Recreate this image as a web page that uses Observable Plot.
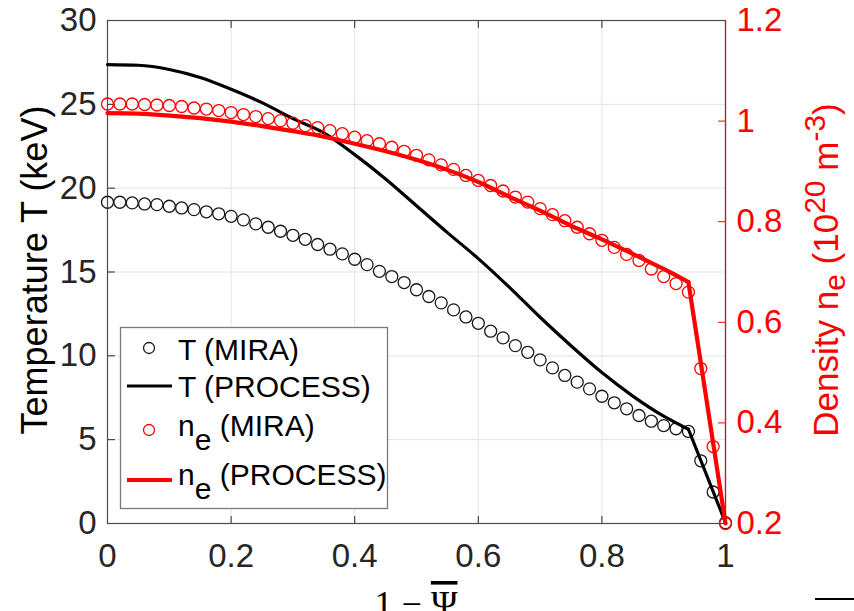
<!DOCTYPE html>
<html>
<head>
<meta charset="utf-8">
<script src="https://cdn.jsdelivr.net/npm/d3@7"></script>
<script src="https://cdn.jsdelivr.net/npm/@observablehq/plot@0.6"></script>
<style>
html, body { margin: 0; padding: 0; background: #fff; overflow: hidden; }
#wrap { position: relative; width: 854px; height: 611px; overflow: hidden; }
#wrap svg { display: block; }
#legend { position: absolute; left: 120px; top: 327px; }
#dash { position: absolute; left: 815px; top: 598px; width: 39px; height: 2px; background: #000; }
</style>
</head>
<body>
<div id="wrap"><div id="dash"></div></div>
<script>
// ---- data ----
const psiMira = [0, 0.02, 0.04, 0.06, 0.08, 0.10, 0.12, 0.14, 0.16, 0.18,
  0.20, 0.22, 0.24, 0.26, 0.28, 0.30, 0.32, 0.34, 0.36, 0.38,
  0.40, 0.42, 0.44, 0.46, 0.48, 0.50, 0.52, 0.54, 0.56, 0.58,
  0.60, 0.62, 0.64, 0.66, 0.68, 0.70, 0.72, 0.74, 0.76, 0.78,
  0.80, 0.82, 0.84, 0.86, 0.88, 0.90, 0.92, 0.94, 0.96, 0.98, 1.00];
const tMira = [19.16, 19.16, 19.12, 19.06, 19.02, 18.92, 18.82, 18.72, 18.59, 18.47,
  18.32, 18.11, 17.87, 17.67, 17.43, 17.19, 16.95, 16.64, 16.36, 16.08,
  15.76, 15.44, 15.04, 14.73, 14.37, 13.94, 13.54, 13.16, 12.74, 12.32,
  11.94, 11.47, 11.07, 10.61, 10.21, 9.76, 9.28, 8.83, 8.43, 8.03,
  7.59, 7.20, 6.84, 6.44, 6.10, 5.84, 5.65, 5.49, 3.74, 1.88, 0.05];
const neMira = [1.034, 1.034, 1.034, 1.033, 1.032, 1.031, 1.029, 1.026, 1.024, 1.021,
  1.017, 1.013, 1.009, 1.005, 1.001, 0.996, 0.991, 0.987, 0.981, 0.975,
  0.968, 0.961, 0.955, 0.948, 0.940, 0.932, 0.923, 0.913, 0.904, 0.892,
  0.882, 0.872, 0.861, 0.849, 0.839, 0.826, 0.814, 0.802, 0.789, 0.776,
  0.763, 0.749, 0.735, 0.723, 0.706, 0.691, 0.677, 0.660, 0.508, 0.353, 0.200];

const psiProcess = [0, 0.05, 0.10, 0.15, 0.20, 0.25, 0.30, 0.35, 0.40, 0.45,
  0.50, 0.55, 0.60, 0.65, 0.70, 0.75, 0.80, 0.85, 0.90, 0.94, 1.00];
const tProcess = [27.37, 27.33, 27.08, 26.60, 25.90, 25.10, 24.15, 23.30, 22.00, 20.55,
  18.95, 17.35, 15.80, 14.10, 12.30, 10.60, 9.00, 7.60, 6.40, 5.62, 0.05];
const neProcess = [1.016, 1.015, 1.011, 1.006, 0.999, 0.990, 0.980, 0.969, 0.955, 0.940,
  0.923, 0.903, 0.879, 0.850, 0.822, 0.792, 0.765, 0.736, 0.706, 0.680, 0.200];
const pedestalPsi = 0.94;

const xTicks = [0, 0.2, 0.4, 0.6, 0.8, 1];
const xTickLabels = ["0", "0.2", "0.4", "0.6", "0.8", "1"];
const tTicks = [0, 5, 10, 15, 20, 25, 30];
const neTicks = [0.2, 0.4, 0.6, 0.8, 1.0, 1.2];
const neTickLabels = ["0.2", "0.4", "0.6", "0.8", "1", "1.2"];

const legendLabels = [["T (MIRA)"], ["T (PROCESS)"], ["n", "e", " (MIRA)"], ["n", "e", " (PROCESS)"]];

// ---- build ----
const tMin = tTicks[0], tMax = tTicks[tTicks.length - 1];
const neMin = neTicks[0], neMax = neTicks[neTicks.length - 1];
const neToT = v => tMin + (v - neMin) * (tMax - tMin) / (neMax - neMin);

const mira = psiMira.map((p, i) => ({psi: p, t: tMira[i], ne: neMira[i]}));
const proc = psiProcess.map((p, i) => ({psi: p, t: tProcess[i], ne: neProcess[i]}));
const procCore = proc.filter(d => d.psi <= pedestalPsi);
const procEdge = proc.filter(d => d.psi >= pedestalPsi);

const neTickPos = neTicks.map(neToT);
const neLabelByPos = new Map(neTickPos.map((p, i) => [p, neTickLabels[i]]));
const xLabelBy = new Map(xTicks.map((p, i) => [p, xTickLabels[i]]));

const tickShape = {draw(context, l) { context.moveTo(0, 0); context.lineTo(0, -l); }};
const axisColor = "#262626";
const red = "#ff0000";
const gridColor = "#e3e3e3";

const plot = Plot.plot({
  width: 854,
  height: 611,
  marginLeft: 107,
  marginRight: 129,
  marginTop: 20,
  marginBottom: 88,
  x: {domain: [xTicks[0], xTicks[xTicks.length - 1]]},
  y: {domain: [tMin, tMax]},
  style: {fontFamily: '"Liberation Sans", Arial, Helvetica, sans-serif', background: "#fff", overflow: "visible"},
  marks: [
    Plot.gridX(xTicks.slice(1, -1), {stroke: gridColor, strokeOpacity: 1, strokeWidth: 1}),
    Plot.gridY(tTicks.slice(1, -1), {stroke: gridColor, strokeOpacity: 1, strokeWidth: 1}),
    Plot.axisX(xTicks, {tickSize: 0, tickPadding: 20, fontSize: 33, fill: axisColor, label: null, tickFormat: d => xLabelBy.get(d)}),
    Plot.axisY(tTicks, {tickSize: 0, tickPadding: 11, fontSize: 33, fill: axisColor, label: null}),
    Plot.axisY(neTickPos, {anchor: "right", tickSize: 0, tickPadding: 11, fontSize: 33, fill: red, label: null, tickFormat: d => neLabelByPos.get(d)}),
    // inward ticks
    Plot.vector(tTicks, {y: d => d, frameAnchor: "left", rotate: 90, length: 7, anchor: "start", shape: tickShape, stroke: axisColor, strokeWidth: 1}),
    Plot.vector(neTickPos, {y: d => d, frameAnchor: "right", rotate: -90, length: 7, anchor: "start", shape: tickShape, stroke: red, strokeWidth: 1}),
    Plot.vector(xTicks, {x: d => d, frameAnchor: "top", rotate: 180, length: 7, anchor: "start", shape: tickShape, stroke: axisColor, strokeWidth: 1}),
    Plot.vector(xTicks, {x: d => d, frameAnchor: "bottom", rotate: 0, length: 7, anchor: "start", shape: tickShape, stroke: axisColor, strokeWidth: 1}),
    Plot.frame({stroke: "#4d4d4d", strokeWidth: 1.2}),
    Plot.ruleX([xTicks[xTicks.length - 1]], {stroke: red, strokeWidth: 1.2}),
    // temperature
    Plot.dot(mira, {x: "psi", y: "t", r: 6, stroke: "#1a1a1a", strokeWidth: 1.3, fill: "none"}),
    Plot.line(procCore, {x: "psi", y: "t", stroke: "#000", strokeWidth: 3.2, curve: "monotone-x"}),
    Plot.line(procEdge, {x: "psi", y: "t", stroke: "#000", strokeWidth: 3.2}),
    // density (right axis)
    Plot.dot(mira, {x: "psi", y: d => neToT(d.ne), r: 6, stroke: red, strokeWidth: 1.3, fill: "none"}),
    Plot.line(procCore, {x: "psi", y: d => neToT(d.ne), stroke: red, strokeWidth: 4.2, curve: "monotone-x"}),
    Plot.line(procEdge, {x: "psi", y: d => neToT(d.ne), stroke: red, strokeWidth: 4.2})
  ]
});

const svg = d3.select(plot);
const fontFam = '"Liberation Sans", Arial, Helvetica, sans-serif';

// left axis title
svg.append("text")
  .attr("transform", "translate(47,270) rotate(-90)")
  .attr("text-anchor", "middle")
  .attr("font-family", fontFam)
  .attr("font-size", 36)
  .attr("fill", "#000")
  .text("Temperature T (keV)");

// right axis title
const rt = svg.append("text")
  .attr("transform", "translate(838,270) rotate(-90)")
  .attr("text-anchor", "middle")
  .attr("font-family", fontFam)
  .attr("font-size", 35)
  .attr("fill", red);
rt.append("tspan").text("Density n");
rt.append("tspan").attr("dy", 7).attr("font-size", 30).text("e");
rt.append("tspan").attr("dy", -7).text(" (10");
rt.append("tspan").attr("dy", -13).attr("font-size", 30).text("20");
rt.append("tspan").attr("dy", 13).text(" m");
rt.append("tspan").attr("dy", -13).attr("font-size", 30).text("-3");
rt.append("tspan").attr("dy", 13).text(")");

// x axis title (LaTeX-like), partly cut at the bottom edge as in the reference
const xt = svg.append("text")
  .attr("x", 416).attr("y", 616)
  .attr("text-anchor", "middle")
  .attr("font-family", '"Liberation Serif", "DejaVu Serif", serif')
  .attr("font-size", 36)
  .attr("fill", "#000");
xt.append("tspan").text("1 \u2212 ");
xt.append("tspan").style("text-decoration", "overline").text("\u03A8");

document.getElementById("wrap").appendChild(plot);

// legend (overlay)
const lg = d3.create("svg").attr("id", "legend").attr("width", 268).attr("height", 182)
  .style("overflow", "visible").style("font-family", fontFam);
lg.append("rect").attr("x", 0.5).attr("y", 0.5).attr("width", 267).attr("height", 181)
  .attr("fill", "#fff").attr("stroke", "#7a7a7a").attr("stroke-width", 1.3);
const rows = [
  {kind: "dot", color: "#1a1a1a", sy: 21, by: 33},
  {kind: "line", color: "#000", sy: 59, by: 70, w: 3.2},
  {kind: "dot", color: red, sy: 103, by: 109},
  {kind: "line", color: red, sy: 153, by: 158, w: 4.2}
];
rows.forEach((r, i) => {
  if (r.kind === "dot") {
    lg.append("circle").attr("cx", 29).attr("cy", r.sy).attr("r", 5.5)
      .attr("fill", "none").attr("stroke", r.color).attr("stroke-width", 1.3);
  } else {
    lg.append("line").attr("x1", 7).attr("x2", 52).attr("y1", r.sy).attr("y2", r.sy)
      .attr("stroke", r.color).attr("stroke-width", r.w);
  }
  const parts = legendLabels[i];
  const t = lg.append("text").attr("x", 58).attr("y", r.by).attr("font-size", 30).attr("fill", "#000");
  if (parts.length === 1) {
    t.text(parts[0]);
  } else {
    t.append("tspan").text(parts[0]);
    t.append("tspan").attr("dy", 14).text(parts[1]);
    t.append("tspan").attr("dy", -14).text(parts[2]);
  }
});
document.getElementById("wrap").appendChild(lg.node());
</script>
</body>
</html>
